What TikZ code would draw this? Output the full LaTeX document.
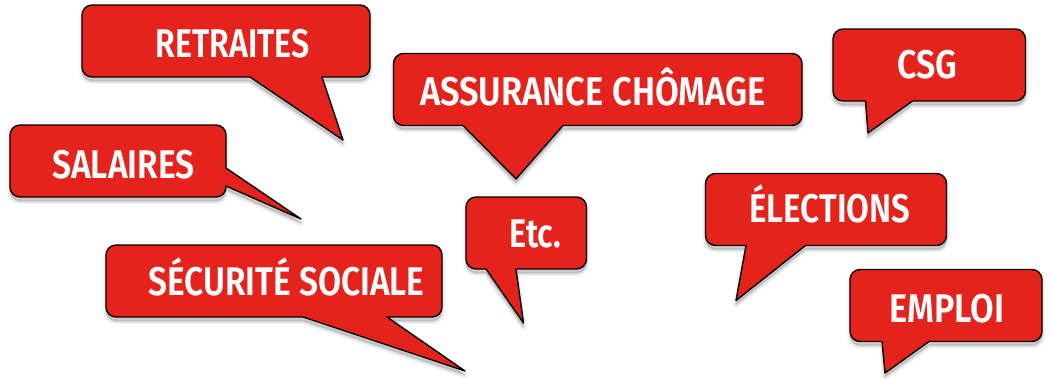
\documentclass[tikz,border=0pt]{standalone}
\usepackage{fontspec}
\usepackage{graphicx}
\setmainfont{Fira Sans SemiBold}[FakeStretch=0.78]
\definecolor{bubblered}{HTML}{E4231C}
\tikzset{
  bubble/.style={draw=black,fill=bubblered,line width=1.4pt,line join=round},
  halo/.style={draw=black,fill=black,draw opacity=0.05,fill opacity=0.05,line join=round},
  bubbletext/.style={text=white,inner sep=0,outer sep=0,anchor=base west,font=\fontsize{40}{40}\selectfont},
}
% #1 = outline of the bubble
\newcommand{\speech}[1]{%
  \path[halo,line width=6pt,yshift=-4pt] #1;
  \path[halo,line width=3.5pt,yshift=-4pt] #1;
  \path[halo,line width=1.5pt,yshift=-4pt] #1;
  \path[bubble] #1;
}
\newcommand{\lbl}[2]{\resizebox{#1pt}{\height}{#2}}
\begin{document}
\begin{tikzpicture}[x=1pt,y=-1pt]
\useasboundingbox (0,0) rectangle (1051,378);
\speech{(322,77) [rounded corners=10pt] -- (370,77) -- (370,5) -- (82,5) -- (82,77) [sharp corners] -- (250,77) -- (343,140) -- cycle}
\speech{(226,168) [rounded corners=10pt] -- (226,125) -- (10,125) -- (10,197) -- (226,197) [sharp corners] -- (226,186) -- (301,219) -- cycle}
\speech{(387,317) [rounded corners=10pt] -- (442,317) -- (442,245) -- (106,245) -- (106,317) [sharp corners] -- (303,317) -- (465,371) -- cycle}
\speech{(563,125.5) [rounded corners=10pt] -- (802,125.5) -- (802,53.5) -- (393.5,53.5) -- (393.5,125.5) [sharp corners] -- (463,125.5) -- (516,179) -- cycle}
\speech{(516,269) [rounded corners=10pt] -- (586.5,269) -- (586.5,197) -- (466,197) -- (466,269) [sharp corners] -- (486,269) -- (523.5,323) -- cycle}
\speech{(912.5,101) [rounded corners=10pt] -- (1025.5,101) -- (1025.5,29) -- (833,29) -- (833,101) [sharp corners] -- (865.5,101) -- (868,133) -- cycle}
\speech{(805.5,245.5) [rounded corners=10pt] -- (946.5,245.5) -- (946.5,173.5) -- (705.5,173.5) -- (705.5,245.5) [sharp corners] -- (746,245.5) -- (736,300.5) -- cycle}
\speech{(929,341.5) [rounded corners=10pt] -- (1042,341.5) -- (1042,269.5) -- (850,269.5) -- (850,341.5) [sharp corners] -- (882,341.5) -- (885,373) -- cycle}
\node[bubbletext] (retraites) at (155.5,57) {\lbl{154}{RETRAITES}};
\node[bubbletext] (salaires) at (52.5,178) {\lbl{142}{SALAIRES}};
\node[bubbletext] (secu) at (148.5,295) {\lbl{276}{SÉCURITÉ SOCIALE}};
\node[bubbletext] (assurance) at (420,105) {\lbl{346}{ASSURANCE CHÔMAGE}};
\node[bubbletext] (etc) at (509.5,247) {\lbl{52}{Etc.}};
\node[bubbletext] (csg) at (897.5,78) {\lbl{60}{CSG}};
\node[bubbletext] (elections) at (749.5,222) {\lbl{161}{ÉLECTIONS}};
\node[bubbletext] (emploi) at (889.5,322) {\lbl{115}{EMPLOI}};
\end{tikzpicture}
\end{document}
